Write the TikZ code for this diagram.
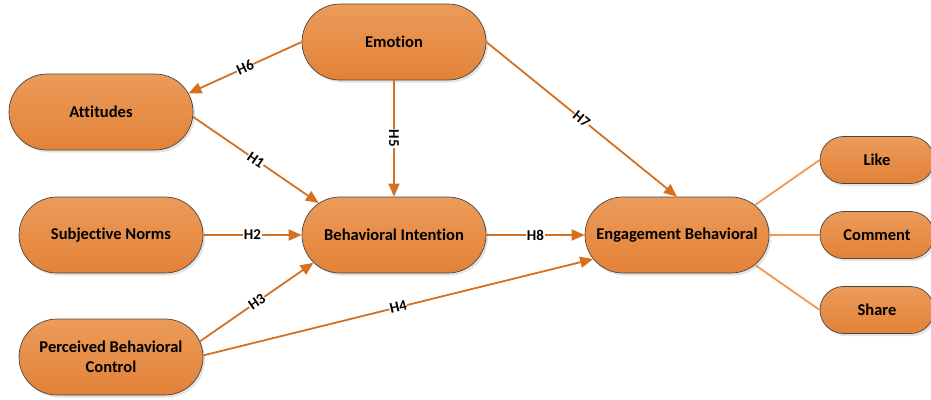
\documentclass[tikz,border=0pt]{standalone}
\usepackage{fontspec}
\setmainfont[Ligatures=NoCommon]{Carlito}
\usetikzlibrary{shapes.misc,arrows.meta,shadows}
\definecolor{ntop}{RGB}{235,155,90}
\definecolor{nbot}{RGB}{227,130,55}
\definecolor{arr}{RGB}{212,112,32}
\definecolor{lite}{RGB}{238,152,88}
\definecolor{bord}{RGB}{70,70,70}
\tikzset{
  box/.style={rounded rectangle, draw=bord, line width=0.7pt,
    top color=ntop, bottom color=nbot,
    drop shadow={shadow xshift=2pt, shadow yshift=-2.5pt, fill=black!22},
    font=\bfseries\fontsize{16.5}{20}\selectfont, align=center, inner sep=2pt},
  bigbox/.style={box, minimum width=188pt, minimum height=76pt},
  smallbox/.style={box, minimum width=118pt, minimum height=47pt},
  conn/.style={draw=arr, line width=1.8pt, -{Triangle[length=13pt,width=11pt]}},
  liteconn/.style={draw=lite, line width=1.8pt},
  hlab/.style={font=\bfseries\fontsize{15}{16}\selectfont, fill=white, inner sep=0.5pt, sloped, pos=0.5}
}
\begin{document}
\begin{tikzpicture}[x=1pt,y=-1pt]
\useasboundingbox (0,0) rectangle (931,399);
\node[bigbox] (emo) at (394,42) {Emotion};
\node[bigbox] (att) at (101,112) {Attitudes};
\node[bigbox] (sn) at (111,235) {Subjective Norms};
\node[bigbox] (pbc) at (111,357) {Perceived Behavioral\\Control};
\node[bigbox] (bi) at (394,235) {Behavioral Intention};
\node[bigbox] (eb) at (677,235) {Engagement Behavioral};
\node[smallbox] (like) at (877,160) {Like};
\node[smallbox] (com) at (877,235) {Comment};
\node[smallbox] (sha) at (877,310) {Share};

\draw[conn] (emo.west) -- node[hlab] {H6} (att.12);
\draw[conn] (att.-3) -- node[hlab] {H1} (bi.157);
\draw[conn] (sn.east) -- node[hlab] {H2} (bi.west);
\draw[conn] (pbc.10) -- node[hlab] {H3} (bi.199);
\draw[conn] (pbc.1) -- node[hlab] {H4} (eb.196);
\draw[conn] (emo.south) -- node[hlab, sloped=false, rotate=-90] {H5} (bi.north);
\draw[conn] (emo.east) -- node[hlab] {H7} (eb.north);
\draw[conn] (bi.east) -- node[hlab] {H8} (eb.west);

\draw[liteconn] (eb.21) -- (like.west);
\draw[liteconn] (eb.east) -- (com.west);
\draw[liteconn] (eb.-21) -- (sha.west);
\end{tikzpicture}
\end{document}
